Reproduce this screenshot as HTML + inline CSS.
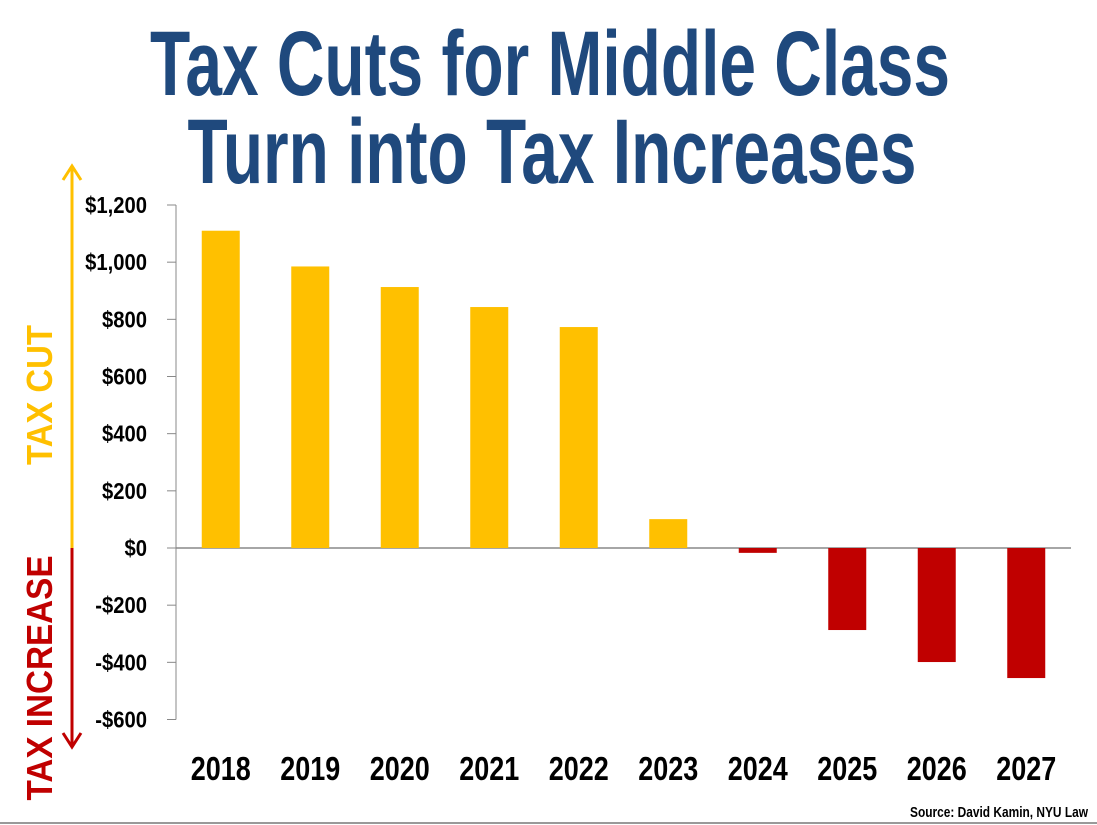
<!DOCTYPE html>
<html><head><meta charset="utf-8"><style>
html,body{margin:0;padding:0;background:#fff;}
svg{display:block;font-family:"Liberation Sans Narrow","Liberation Sans",sans-serif;font-weight:bold;}
</style></head><body>
<svg id="chart" width="1097" height="825" viewBox="0 0 1097 825" xmlns="http://www.w3.org/2000/svg">
<text x="550" y="95" text-anchor="middle" font-size="92" fill="#1F497D" textLength="800" lengthAdjust="spacingAndGlyphs">Tax Cuts for Middle Class</text>
<text x="552" y="183" text-anchor="middle" font-size="92" fill="#1F497D" textLength="729" lengthAdjust="spacingAndGlyphs">Turn into Tax Increases</text>
<g>
<line x1="72" y1="167" x2="72" y2="548" stroke="#FFC000" stroke-width="3"/>
<polyline points="63,180 72,166 81,180" fill="none" stroke="#FFC000" stroke-width="3"/>
</g>
<g>
<line x1="72" y1="548" x2="72" y2="746" stroke="#C00000" stroke-width="3"/>
<polyline points="63,733 72,747 81,733" fill="none" stroke="#C00000" stroke-width="3"/>
</g>
<text transform="translate(52,395) rotate(-90)" text-anchor="middle" font-size="36" fill="#FFC000" textLength="140" lengthAdjust="spacingAndGlyphs">TAX CUT</text>
<text transform="translate(52,678) rotate(-90)" text-anchor="middle" font-size="36" fill="#C00000" textLength="245" lengthAdjust="spacingAndGlyphs">TAX INCREASE</text>
<g id="axis"></g>
<g id="bars"></g>
<text x="1088" y="817" text-anchor="end" font-size="15" fill="#000" textLength="178" lengthAdjust="spacingAndGlyphs">Source: David Kamin, NYU Law</text>
<line x1="0" y1="823" x2="1097" y2="823" stroke="#999" stroke-width="2"/>
</svg>
<script>
const categories = ["2018","2019","2020","2021","2022","2023","2024","2025","2026","2027"];
const values = [1110, 985, 913, 843, 773, 101, -17, -287, -399, -455];
const tickValues = [1200, 1000, 800, 600, 400, 200, 0, -200, -400, -600];
const tickLabels = ["$1,200","$1,000","$800","$600","$400","$200","$0","-$200","-$400","-$600"];

const NS = "http://www.w3.org/2000/svg";
const X0 = 176, X1 = 1071, Y0 = 548, PPU = 343 / 1200;
const y = v => Y0 - v * PPU;
const band = (X1 - X0) / categories.length;
const xc = i => X0 + band * (i + 0.5);
function mk(tag, attrs, parent){const e=document.createElementNS(NS,tag);for(const k in attrs)e.setAttribute(k,attrs[k]);parent.appendChild(e);return e;}
const axis = document.getElementById("axis");
const bars = document.getElementById("bars");
const yl = mk("line",{x1:X0,y1:y(1200),x2:X0,y2:y(-600),stroke:"#888","stroke-width":1},axis);


tickValues.forEach((v,i)=>{
  const t = mk("line",{x1:X0-9,y1:y(v),x2:X0,y2:y(v),stroke:"#888","stroke-width":1},axis);
  
  
  const tx = mk("text",{x:0,y:0,transform:"translate(147,"+(y(v)+8)+") scale(0.88,1)","text-anchor":"end","font-size":23,fill:"#000"},axis);
  tx.textContent = tickLabels[i];
  
  
});
categories.forEach((c,i)=>{
  const v = values[i];
  const r = mk("rect",{x:xc(i)-19,y:Math.min(y(v),Y0),width:38,height:Math.abs(y(v)-Y0),fill:v>=0?"#FFC000":"#C00000"},bars);
  
  
  const t = mk("text",{x:xc(i),y:780,"text-anchor":"middle","font-size":33,fill:"#000",textLength:60,lengthAdjust:"spacingAndGlyphs"},axis);
  t.textContent = c;
  
  
});
const zl = mk("line",{x1:X0,y1:Y0,x2:X1,y2:Y0,stroke:"#888","stroke-width":1.5},axis);


</script>
</body></html>
